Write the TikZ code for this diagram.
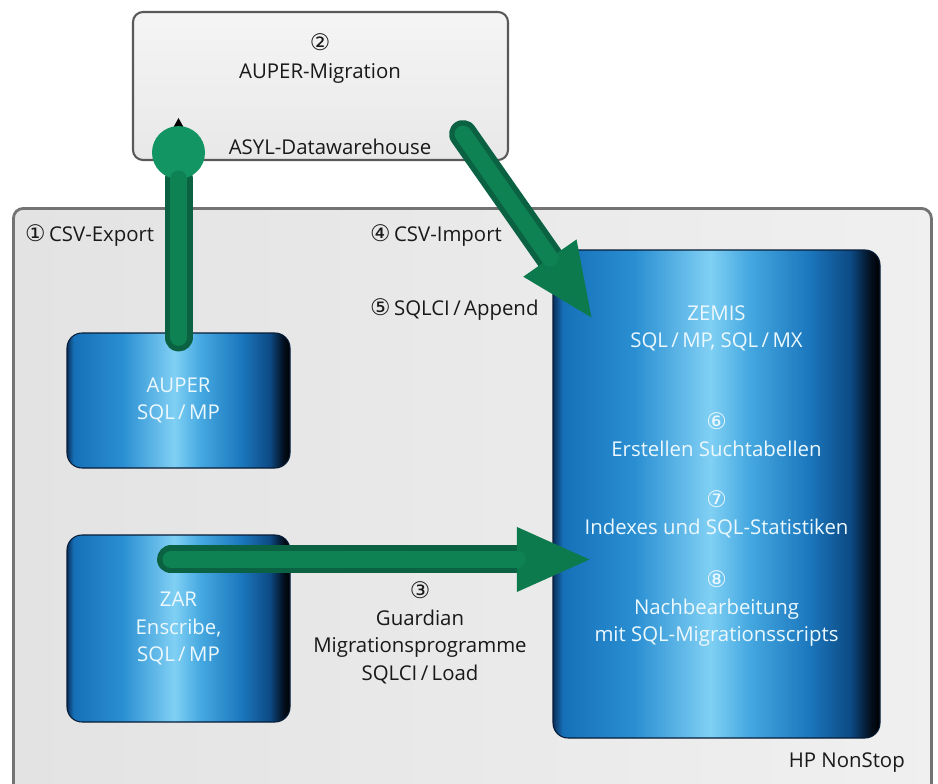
\documentclass[tikz,border=0pt]{standalone}
\usepackage{fontspec}
\setmainfont{Open Sans}
\newfontfamily\circfont{DejaVu Sans}
\usetikzlibrary{calc,arrows.meta,positioning}
\definecolor{flowdark}{HTML}{0A6242}
\definecolor{flowmid}{HTML}{0D7A4E}
\definecolor{flowlight}{HTML}{0F8254}
\definecolor{flowring}{HTML}{139463}
\definecolor{dbA}{HTML}{0B2F5C}
\definecolor{dbB}{HTML}{1670B8}
\definecolor{dbC}{HTML}{2A8FD2}
\definecolor{dbD}{HTML}{80D0F4}
\definecolor{dbE}{HTML}{45A8E0}
\definecolor{dbF}{HTML}{1C78BE}
\definecolor{dbG}{HTML}{0C4A84}
\definecolor{dbH}{HTML}{03101F}
\pgfdeclarehorizontalshading{dbshade}{100bp}{color(0bp)=(dbA); color(25bp)=(dbA); color(26.5bp)=(dbB); color(37.5bp)=(dbC); color(49bp)=(dbD); color(55bp)=(dbE); color(64bp)=(dbF); color(70.5bp)=(dbG); color(73.5bp)=(dbH); color(75bp)=(black); color(100bp)=(black)}
\newcommand\cnum[1]{{\circfont\fontsize{13}{15.5}\selectfont #1}}

\begin{document}
\begin{tikzpicture}[
	every node/.style={font=\fontsize{11.6}{15.5}\selectfont, text=black!90},
	graybox/.style={draw=black!65, line width=1.2pt, rounded corners=0.2cm, top color=black!4, bottom color=black!9},
	dbbox/.style={rounded corners=0.3cm, shading=dbshade, draw=dbA!60!black, line width=0.6pt, text=white!92!cyan, align=center},
	dbtext/.style={text=white!92!cyan, align=center},
	flow/.style={line width=0.56cm, draw=flowdark, line cap=round},
	flowtip/.style={-{Triangle[length=1.45cm,width=1.3cm,line width=0pt,fill=flowmid]}},
	flowhi/.style={line width=0.34cm, draw=flowlight, line cap=round},
	]
	%FRAME
	\useasboundingbox (0,0) rectangle (18.76,15.66);
	\clip (0,0) rectangle (18.76,15.66);
	%BOXES
	\node[graybox, minimum width=7.5cm, minimum height=2.96cm] (asyl) at (6.41,13.94) {};
	\node[draw=black!55, line width=1.6pt, rounded corners=0.2cm, left color=black!11, middle color=black!3, right color=black!6,
		minimum width=18.36cm, minimum height=12.2cm, anchor=north west] (nonstop) at (0.24,11.52) {};
	\node[dbbox, minimum width=4.46cm, minimum height=2.7cm] (auper) at (3.57,7.65) {AUPER\\SQL\,/\,MP};
	\node[dbbox, minimum width=4.46cm, minimum height=3.74cm] (zar) at (3.57,3.09) {ZAR\\Enscribe,\\SQL\,/\,MP};
	\node[dbbox, minimum width=6.54cm, minimum height=9.76cm] (zemis) at (14.33,5.78) {};
	%ARROWS
	\coordinate (exp-a) at ($(auper.north)+(0,-0.1)$);
	\coordinate (exp-b) at ($(auper.north |- asyl.south)+(0,0.7)$);
	\fill[black] ($(exp-b)+(-0.2,-0.2)$) -- ($(exp-b)+(0,0.16)$) -- ($(exp-b)+(0.2,-0.2)$) -- cycle;
	\draw[flow, -{Circle[length=1.06cm,line width=0pt,fill=flowring]}] (exp-a) -- (exp-b);
	\draw[flowhi, shorten >=1.06cm] (exp-a) -- (exp-b);
	\coordinate (load-a) at ($(zar.north)+(-0.15,-0.5)$);
	\coordinate (load-b) at ($(zemis.west |- load-a)+(0.74,0)$);
	\draw[flow, flowtip] (load-a) -- (load-b);
	\draw[flowhi, shorten >=1.45cm] (load-a) -- (load-b);
	\coordinate (imp-a) at ($(asyl.south east)+(-0.92,0.54)$);
	\coordinate (imp-b) at ($(zemis.north west)+(0.78,-1.36)$);
	\draw[flow, flowtip] (imp-a) -- (imp-b);
	\draw[flowhi, shorten >=1.45cm] (imp-a) -- (imp-b);
	%TEXTS
	\node[align=center] (asyl-mig) at (6.4,14.49) {\cnum{②}\\AUPER-Migration};
	\node (asyl-name) at (6.6,12.72) {ASYL-Datawarehouse};
	\node[anchor=west] (csv-exp) at (0.38,10.94) {\cnum{①}\,CSV-Export};
	\node[anchor=west] (csv-imp) at (7.28,10.94) {\cnum{④}\,CSV-Import};
	\node[anchor=west] (append) at (7.28,9.46) {\cnum{⑤}\,SQLCI\,/\,Append};
	\node[align=center] (load) at (8.4,3.01) {\cnum{③}\\Guardian\\Migrationsprogramme\\SQLCI\,/\,Load};
	\node[dbtext] (zemis-name) at ($(zemis.north)+(0,-1.58)$) {ZEMIS\\SQL\,/\,MP, SQL\,/\,MX};
	\node[dbtext] (zemis-such) at ($(zemis.north)+(0,-3.70)$) {\cnum{⑥}\\Erstellen Suchtabellen};
	\node[dbtext] (zemis-idx) at ($(zemis.north)+(0,-5.30)$) {\cnum{⑦}\\Indexes und SQL-Statistiken};
	\node[dbtext] (zemis-post) at ($(zemis.north)+(0,-7.18)$) {\cnum{⑧}\\Nachbearbeitung\\mit SQL-Migrationsscripts};
	\node[anchor=east] (hp) at (18.22,0.4) {HP NonStop};
\end{tikzpicture}
\end{document}
